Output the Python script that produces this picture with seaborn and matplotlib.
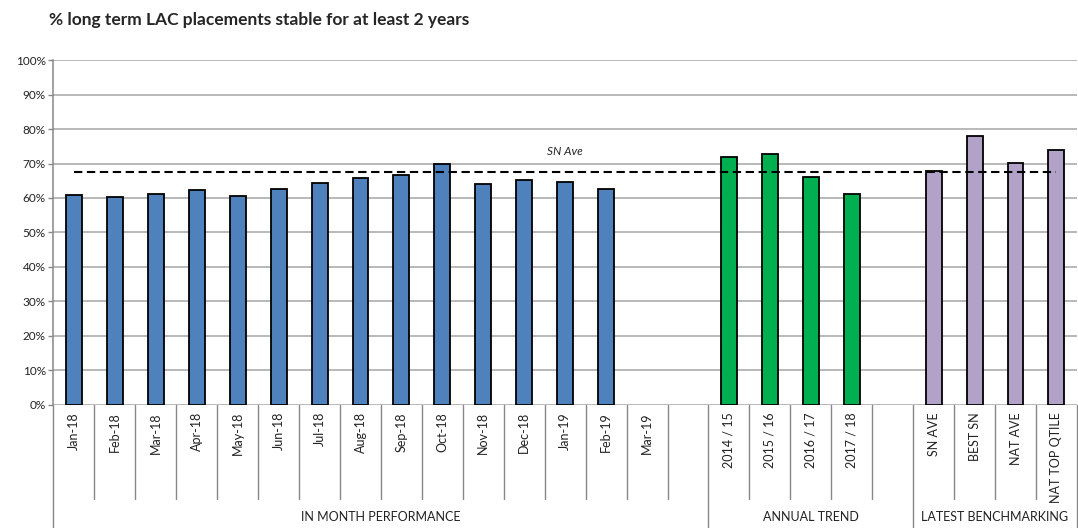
import pandas as pd
import numpy as np

import seaborn as sns
import matplotlib.pyplot as plt
import matplotlib.transforms as mtransforms

sns.set_theme(style="white")
plt.rcParams['font.family'] = ['Lato', 'DejaVu Sans']

## data (percent)
months = ["Jan-18", "Feb-18", "Mar-18", "Apr-18", "May-18", "Jun-18", "Jul-18", "Aug-18",
          "Sep-18", "Oct-18", "Nov-18", "Dec-18", "Jan-19", "Feb-19", "Mar-19"]
month_vals = [60.9, 60.3, 61.2, 62.3, 60.7, 62.7, 64.4, 65.8, 66.6, 69.8, 64.0, 65.1, 64.6, 62.5, np.nan]

years = ["2014 / 15", "2015 / 16", "2016 / 17", "2017 / 18"]
year_vals = [72.0, 72.8, 66.2, 61.2]

bench = ["SN AVE", "BEST SN", "NAT AVE", "NAT TOP QTILE"]
bench_vals = [67.7, 78.1, 70.2, 74.0]

sn_ave = 67.6

group_names = ["IN MONTH PERFORMANCE", "ANNUAL TREND", "LATEST BENCHMARKING"]
colors = {"IN MONTH PERFORMANCE": "#4F81BD", "ANNUAL TREND": "#00B050", "LATEST BENCHMARKING": "#B3A2C7"}

## slot order, blank slots close each group
order = months + [" "] + years + ["  "] + bench
df = pd.DataFrame({
    "label": months + years + bench,
    "value": month_vals + year_vals + bench_vals,
    "group": [group_names[0]] * len(months) + [group_names[1]] * len(years) + [group_names[2]] * len(bench),
})
group_sizes = [len(months) + 1, len(years) + 1, len(bench)]

fig = plt.figure(figsize=(10.78, 5.28), dpi=100)
ax = fig.add_axes([0.0496, 0.2339, 0.9494, 0.6519])

sns.barplot(data=df, x="label", y="value", hue="group", order=order, palette=colors,
            saturation=1, dodge=False, width=0.39, edgecolor="black", linewidth=1.3,
            legend=False, ax=ax, zorder=3)

ax.set_xlim(-0.5, len(order) - 0.5)
ax.set_ylim(0, 100)
ax.set_yticks(range(0, 101, 10))
ax.set_yticklabels([f"{v}%" for v in range(0, 101, 10)], fontsize=8.5, color="#222222")
ax.yaxis.grid(True, color="#A6A6A6", linewidth=1.1, zorder=0)
ax.tick_params(axis="y", length=3.5, width=1, color="#888888", left=True, pad=2)
ax.set_xticks([])
ax.set_xlabel("")
ax.set_ylabel("")
for s in ["top", "right", "bottom"]:
    ax.spines[s].set_visible(False)
ax.spines["left"].set_color("#888888")
ax.spines["left"].set_linewidth(1.1)

## SN average reference line
ax.hlines(sn_ave, 0, len(order) - 1, colors="black", linewidth=1.5, linestyles=(0, (4, 2.2)), zorder=4)
ax.text(order.index("Jan-19"), sn_ave + 5.8, "SN Ave", fontsize=8.5, style="italic",
        ha="center", va="center", color="#222222")

## category axis drawn by hand: labels, separators, group labels
trans = mtransforms.blended_transform_factory(ax.transData, ax.transAxes)
for i, lab in enumerate(order):
    if lab.strip():
        ax.text(i, -0.022, lab, rotation=90, ha="center", va="top", fontsize=9,
                color="#222222", transform=trans)

bounds = np.cumsum([0] + group_sizes) - 0.5
for k in range(len(order) + 1):
    x = k - 0.5
    long = x in bounds
    ax.plot([x, x], [0, -0.36 if long else -0.2745], color="#888888", linewidth=1,
            transform=trans, clip_on=False)

for g, lo, hi in zip(group_names, bounds[:-1], bounds[1:]):
    ax.text((lo + hi) / 2, -0.327, g, ha="center", va="center", fontsize=9,
            color="#222222", transform=trans)

fig.text(0.045, 0.962, "% long term LAC placements stable for at least 2 years",
         fontsize=12.5, fontweight="bold", ha="left", va="center")

plt.savefig("out.png", dpi=100)
